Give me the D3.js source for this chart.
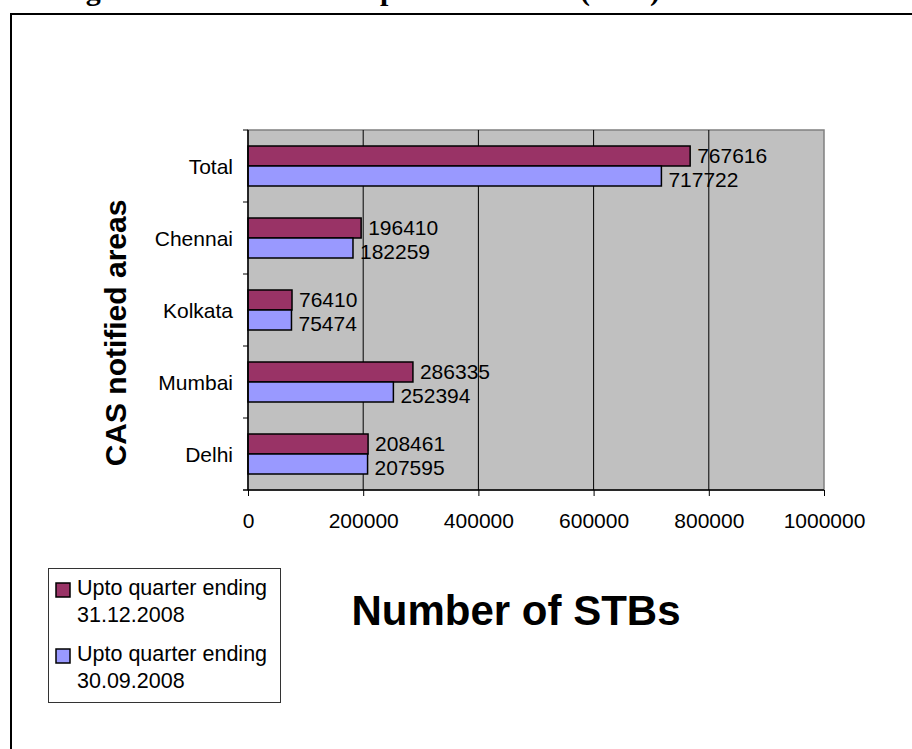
<!DOCTYPE html>
<html lang="en">
<head>
    <meta charset="UTF-8">
    <title>Number of STBs</title>
    <script src="https://cdn.jsdelivr.net/npm/d3@7"></script>
</head>
<style>
    body { margin: 0; background: #ffffff; }
    text { font-family: Arial, "Liberation Sans", sans-serif; fill: #000; }
</style>
<body>
    <div class="chartBox"></div>
    <script>
        // data
        const categories = ["Total", "Chennai", "Kolkata", "Mumbai", "Delhi"];
        const dec2008 = [767616, 196410, 76410, 286335, 208461];
        const sep2008 = [717722, 182259, 75474, 252394, 207595];
        const seriesNames = ["Upto quarter ending 31.12.2008", "Upto quarter ending 30.09.2008"];
        const seriesColors = ["#993366", "#9999FF"];
        const xTicks = [0, 200000, 400000, 600000, 800000, 1000000];

        const width = 912;
        const height = 749;
        const svg = d3.select(".chartBox").append("svg")
            .attr("width", width).attr("height", height)
            .style("background-color", "#fff");

        // cut-off heading above the frame, only the descenders show
        svg.append("text")
            .attr("y", 0)
            .style("font-family", "'Liberation Serif', 'Times New Roman', serif")
            .style("font-weight", "bold")
            .style("font-size", "30px")
            .selectAll("tspan")
            .data([["Fig", 59], ["p", 380], ["(CAS)", 580]])
            .join("tspan")
            .attr("x", d => d[1])
            .text(d => d[0]);

        // outer frame
        svg.append("rect")
            .attr("x", 11).attr("y", 14)
            .attr("width", 1000).attr("height", 800)
            .attr("fill", "none").attr("stroke", "#000").attr("stroke-width", 2);

        const plot = { left: 248, right: 824, top: 130, bottom: 490 };

        const x = d3.scaleLinear().domain([0, 1000000]).range([plot.left, plot.right]);
        const y = d3.scaleBand().domain(categories).range([plot.top, plot.bottom]);
        const barH = 20;

        // plot area
        svg.append("rect")
            .attr("x", plot.left).attr("y", plot.top)
            .attr("width", plot.right - plot.left).attr("height", plot.bottom - plot.top)
            .attr("fill", "#C0C0C0").attr("stroke", "#808080").attr("stroke-width", 1.5);

        // gridlines
        svg.append("g")
            .selectAll("line")
            .data(xTicks.slice(1, -1))
            .join("line")
            .attr("x1", d => x(d)).attr("x2", d => x(d))
            .attr("y1", plot.top).attr("y2", plot.bottom)
            .attr("stroke", "#000").attr("stroke-width", 1);

        // bars
        const rows = categories.map((c, i) => ({ cat: c, vals: [dec2008[i], sep2008[i]] }));
        const groups = svg.append("g").selectAll("g")
            .data(rows)
            .join("g");

        groups.selectAll("rect")
            .data(d => d.vals.map((v, k) => ({ cat: d.cat, v, k })))
            .join("rect")
            .attr("x", x(0))
            .attr("y", d => y(d.cat) + y.bandwidth() / 2 - barH + d.k * barH)
            .attr("width", d => x(d.v) - x(0))
            .attr("height", barH)
            .attr("fill", d => seriesColors[d.k])
            .attr("stroke", "#000").attr("stroke-width", 1.5);

        // value labels (the lower one sits a bit lower, like the original)
        groups.selectAll("text")
            .data(d => d.vals.map((v, k) => ({ cat: d.cat, v, k })))
            .join("text")
            .attr("x", d => x(d.v) + 7)
            .attr("y", d => y(d.cat) + y.bandwidth() / 2 - barH / 2 + d.k * barH + (d.k ? 3 : -1))
            .attr("dy", "0.36em")
            .style("font-size", "21px")
            .text(d => d.v);

        // x axis
        const xAxis = d3.axisBottom(x).tickValues(xTicks).tickFormat(d3.format("d")).tickSize(6).tickPadding(17);
        const gx = svg.append("g").attr("transform", `translate(0,${plot.bottom})`).call(xAxis);
        gx.select(".domain").attr("stroke", "#000").attr("stroke-width", 1.5).attr("d", `M${plot.left - 5},0H${plot.right}`);
        gx.selectAll("text").style("font-size", "21px").style("font-family", "Arial, 'Liberation Sans', sans-serif").attr("fill", "#000");

        // y axis: line plus ticks on the band boundaries
        svg.append("line")
            .attr("x1", plot.left).attr("x2", plot.left)
            .attr("y1", plot.top).attr("y2", plot.bottom)
            .attr("stroke", "#000").attr("stroke-width", 1.5);
        svg.append("g")
            .selectAll("line")
            .data(categories)
            .join("line")
            .attr("x1", plot.left - 5).attr("x2", plot.left)
            .attr("y1", d => y(d)).attr("y2", d => y(d))
            .attr("stroke", "#000");
        svg.append("g")
            .selectAll("text")
            .data(categories)
            .join("text")
            .attr("x", 233)
            .attr("y", d => y(d) + y.bandwidth() / 2)
            .attr("dy", "0.36em")
            .attr("text-anchor", "end")
            .style("font-size", "21px")
            .text(d => d);

        // axis titles
        svg.append("text")
            .attr("transform", "translate(126,333) rotate(-90)")
            .attr("text-anchor", "middle")
            .style("font-size", "30px").style("font-weight", "bold")
            .text("CAS notified areas");
        svg.append("text")
            .attr("x", 516).attr("y", 625)
            .attr("text-anchor", "middle")
            .style("font-size", "42px").style("font-weight", "bold")
            .text("Number of STBs");

        // legend
        const legend = svg.append("g");
        legend.append("rect")
            .attr("x", 48.5).attr("y", 568.5).attr("width", 232).attr("height", 134)
            .attr("fill", "#fff").attr("stroke", "#333").attr("stroke-width", 1);
        const items = legend.selectAll("g")
            .data(seriesNames)
            .join("g")
            .attr("transform", (d, i) => `translate(0,${i * 66})`);
        items.append("rect")
            .attr("x", 56).attr("y", 583).attr("width", 14).attr("height", 14)
            .attr("fill", (d, i) => seriesColors[i])
            .attr("stroke", "#000").attr("stroke-width", 1.5);
        items.append("text")
            .attr("x", 77).attr("y", 595)
            .style("font-size", "21.5px")
            .selectAll("tspan")
            .data(d => [d.slice(0, 19), d.slice(20)])
            .join("tspan")
            .attr("x", 77)
            .attr("dy", (d, j) => j === 0 ? 0 : 27)
            .text(d => d);
    </script>
</body>
</html>
